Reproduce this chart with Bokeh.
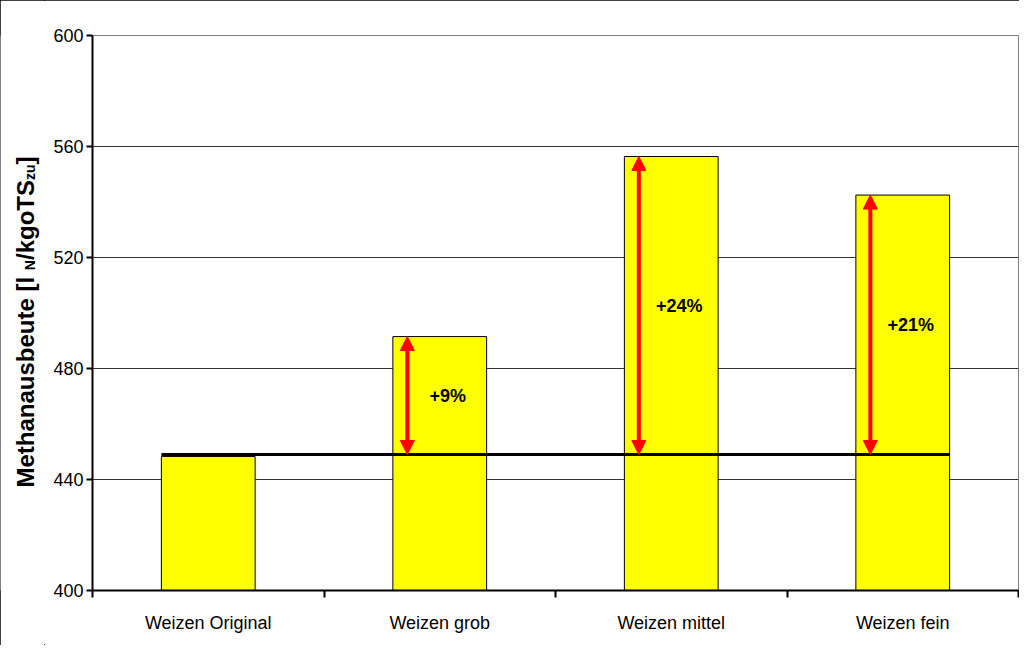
import math
from bokeh.plotting import figure
from bokeh.layouts import row
from bokeh.models import (ColumnDataSource, Range1d, LinearAxis, FixedTicker, Arrow, NormalHead)
from bokeh.core.properties import value
from bokeh.embed import file_html
from bokeh.resources import INLINE

# ---------------- data ----------------
categories = ["Weizen Original", "Weizen grob", "Weizen mittel", "Weizen fein"]
yields = [448.3, 491.5, 556.4, 542.5]
baseline = 449.0
increase_labels = ["", "+9%", "+24%", "+21%"]
y_ticks = [400, 440, 480, 520, 560, 600]
y_label_parts = [("Methanausbeute [l ", False), ("N", True), ("/kgoTS", False),
                 ("zu", True), ("]", False)]

FONT = "Liberation Sans"
H = 645
LAB_W = 44
TOP, BOTTOM = 35, 55
FRAME_W, FRAME_H = 926, 555
BAR_W = 0.405
n = len(categories)
xs = [i + 0.5 for i in range(n)]
Y0, Y1 = 400, 600

# ---------------- main chart ----------------
p = figure(x_range=Range1d(0, n), y_range=Range1d(Y0, Y1),
           frame_width=FRAME_W, frame_height=FRAME_H,
           min_border_left=92 - LAB_W, min_border_right=1,
           min_border_top=TOP, min_border_bottom=BOTTOM,
           output_backend="svg", toolbar_location=None,
           x_axis_location=None, y_axis_location="left",
           background_fill_color="white", border_fill_color="white")
p.outline_line_color = "#808080"
p.outline_line_width = 1

yax = p.yaxis[0]
yax.ticker = FixedTicker(ticks=y_ticks)
yax.axis_line_width = 2
yax.axis_line_color = "black"
yax.major_tick_out = 6
yax.major_tick_in = 0
yax.major_tick_line_width = 2
yax.minor_tick_line_color = None
yax.major_label_text_font = FONT
yax.major_label_text_font_size = "18px"
yax.major_label_text_color = "black"
yax.major_label_standoff = 3
p.ygrid.ticker = FixedTicker(ticks=y_ticks)
p.ygrid.grid_line_color = "#333333"
p.ygrid.grid_line_width = 1
p.xgrid.visible = False

edge_axis = LinearAxis(ticker=FixedTicker(ticks=list(range(n + 1))),
                       major_tick_out=7, major_tick_in=0, major_tick_line_width=2,
                       minor_tick_line_color=None, axis_line_width=2, axis_line_color="black",
                       major_label_text_font_size="1px", major_label_text_alpha=0,
                       major_label_standoff=0)
cat_axis = LinearAxis(ticker=FixedTicker(ticks=xs),
                      major_label_overrides={x: c for x, c in zip(xs, categories)},
                      axis_line_color=None, major_tick_line_color=None,
                      minor_tick_line_color=None,
                      major_label_text_font=FONT, major_label_text_font_size="18px",
                      major_label_text_color="black", major_label_standoff=9)
p.add_layout(edge_axis, "below")
p.add_layout(cat_axis, "below")

src = ColumnDataSource(dict(x=xs, val=yields))
p.vbar(x="x", top="val", bottom=Y0, width=BAR_W, source=src,
       fill_color="#FFFF00", line_color="black", line_width=1)

p.segment(x0=[xs[0] - BAR_W / 2], y0=[baseline], x1=[xs[-1] + BAR_W / 2], y1=[baseline],
          line_color="black", line_width=3)

arr_x = [x - 0.14 for x in xs[1:]]
arr_src = ColumnDataSource(dict(x=arr_x, base=[baseline] * (n - 1), top=yields[1:]))
p.add_layout(Arrow(source=arr_src, x_start="x", y_start="base", x_end="x", y_end="top",
                   line_color="#FF0000", line_width=4,
                   start=NormalHead(size=14, fill_color="#FF0000", line_color="#FF0000", line_width=1),
                   end=NormalHead(size=14, fill_color="#FF0000", line_color="#FF0000", line_width=1)))

mids = [(baseline + v) / 2 for v in yields]
txt_src = ColumnDataSource(dict(x=[x + 0.035 for x in xs[1:]], mid=mids[1:],
                                label=increase_labels[1:]))
p.text(x="x", y="mid", text="label", source=txt_src,
       text_font=value(FONT), text_font_style="bold", text_font_size="18px",
       text_align="center", text_baseline="middle", text_color="black")

# ---------------- y-axis title strip (with subscripts) ----------------
# its frame is aligned with the main frame; ranges are set so 1 unit = 1 pixel,
# with y = H - (pixels from the top of the canvas)
lab = figure(frame_width=LAB_W, frame_height=FRAME_H,
             x_range=Range1d(0, LAB_W), y_range=Range1d(BOTTOM, H - TOP),
             min_border_left=0, min_border_right=0,
             min_border_top=TOP, min_border_bottom=BOTTOM,
             output_backend="svg", toolbar_location=None,
             x_axis_location=None, y_axis_location=None,
             background_fill_color="white", border_fill_color="white")
lab.outline_line_color = None
lab.xgrid.visible = False
lab.ygrid.visible = False

W = {"M": .833, "e": .556, "t": .333, "h": .611, "a": .556, "n": .611, "u": .611, "s": .556,
     "b": .611, " ": .278, "[": .333, "l": .278, "N": .722, "/": .278, "k": .556, "g": .611,
     "o": .611, "T": .611, "S": .667, "z": .5, "]": .333}
pos = H - 487.0   # title starts 487 px below the top of the canvas
t_x, t_y, t_txt, t_size = [], [], [], []
for text, sub in y_label_parts:
    size = 14 if sub else 24
    t_x.append(25.0 + (4 if sub else 0))
    t_y.append(pos)
    t_txt.append(text)
    t_size.append(f"{size}px")
    pos += sum(W[c] for c in text) * size
lab.text(x="x", y="y", text="t", source=ColumnDataSource(dict(x=t_x, y=t_y, t=t_txt, s=t_size)),
         angle=math.pi / 2, text_font=value(FONT), text_font_style="bold",
         text_font_size="s", text_align="left", text_baseline="alphabetic", text_color="black")

layout = row(lab, p, spacing=0)
layout.styles = {"outline": "1px solid black", "outline-offset": "-1px"}

open("out.html", "w").write(file_html(layout, INLINE))
